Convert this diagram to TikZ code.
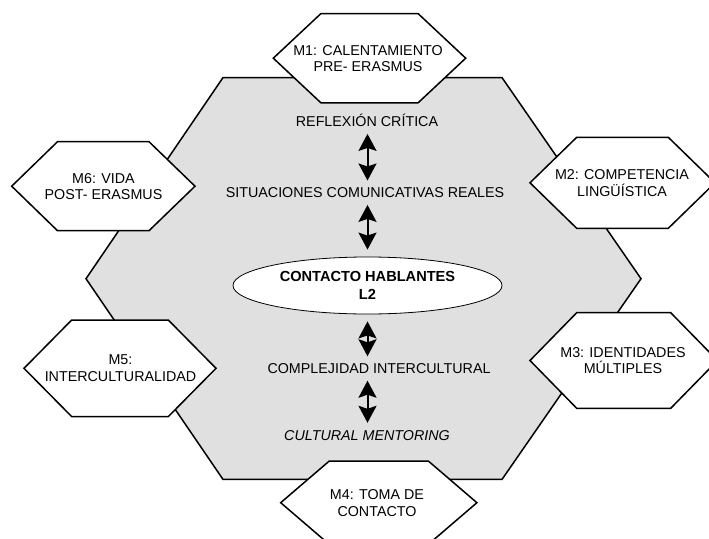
\documentclass[tikz,border=0pt]{standalone}
\usepackage{fontspec}
\setmainfont{Liberation Sans}
\usetikzlibrary{arrows.meta,shapes.geometric}
\definecolor{hexgrey}{RGB}{224,224,224}

\begin{document}
\begin{tikzpicture}[x=1pt,y=-1pt,
font=\fontsize{14.3}{16.7}\selectfont,
frame/.style={draw=black, fill=hexgrey, line width=1.5pt, line join=miter},
module/.style={draw=black, fill=white, line width=1.5pt, line join=miter},
modtext/.style={align=center, inner sep=0pt},
phase/.style={inner sep=0pt, text height=10pt, text depth=0pt},
core/.style={ellipse, draw=black, fill=white, line width=0.8pt, minimum width=269pt, minimum height=57pt, inner sep=0pt, align=center, font=\fontsize{14.6}{18}\selectfont\bfseries},
link/.style={{Stealth[width=18pt,length=17pt,inset=3pt]}-{Stealth[width=18pt,length=17pt,inset=3pt]}, line width=2pt, shorten >=7pt, shorten <=7pt}
]
\useasboundingbox (0,0) rectangle (709,538);

\draw[frame] (86,278.7) -- (223,77.6) -- (502,77.6) -- (641,278.7) -- (502,479.4) -- (223,479.4) -- cycle;

\draw[module] (273.3,58.2) -- (321,13.5) -- (418,13.5) -- (465.7,58.2) -- (418,102.9) -- (321,102.9) -- cycle;
\draw[module] (530,182.8) -- (576.7,137.3) -- (668.3,137.3) -- (715,182.8) -- (668.3,228.3) -- (576.7,228.3) -- cycle;
\draw[module] (530,360.5) -- (576.7,312.7) -- (670.7,312.7) -- (717.5,360.5) -- (670.7,408.3) -- (576.7,408.3) -- cycle;
\draw[module] (280.7,502.7) -- (329.3,461) -- (428.3,461) -- (476.9,502.7) -- (428.3,544.4) -- (329.3,544.4) -- cycle;
\draw[module] (24,368.3) -- (71.7,320) -- (168.3,320) -- (216,368.3) -- (168.3,416.6) -- (71.7,416.6) -- cycle;
\draw[module] (11.7,186.2) -- (57.5,141.7) -- (149,141.7) -- (195,186.2) -- (149,230.7) -- (57.5,230.7) -- cycle;

\node[modtext](m1) at (368,58.5){M1: CALENTAMIENTO\\PRE- ERASMUS};
\node[modtext](m2) at (622,183.3){M2: COMPETENCIA\\LINGÜÍSTICA};
\node[modtext](m3) at (623,360.5){M3: IDENTIDADES\\MÚLTIPLES};
\node[modtext](m4) at (377,503.3){M4: TOMA DE\\CONTACTO};
\node[modtext](m5) at (120.5,368){M5:\\INTERCULTURALIDAD};
\node[modtext](m6) at (103.5,186.7){M6: VIDA\\POST- ERASMUS};

\node[phase](refl) at (367,121.7){REFLEXIÓN CRÍTICA};
\node[phase](situ) at (365,192.7){SITUACIONES COMUNICATIVAS REALES};
\node[core](contact) at (367.5,285.5){CONTACTO HABLANTES\\L2};
\node[phase](compl) at (379,368.5){COMPLEJIDAD INTERCULTURAL};
\node[phase,font=\fontsize{14.3}{16.7}\selectfont\itshape](mentor) at (367,435){CULTURAL MENTORING};

\draw[link] (refl.south -| contact) -- (situ.north -| contact);
\draw[link] (situ.south -| contact) -- (contact.north);
\draw[link] (contact.south) -- (compl.north -| contact);
\draw[link] (compl.south -| contact) -- (mentor.north -| contact);
\end{tikzpicture}
\end{document}
